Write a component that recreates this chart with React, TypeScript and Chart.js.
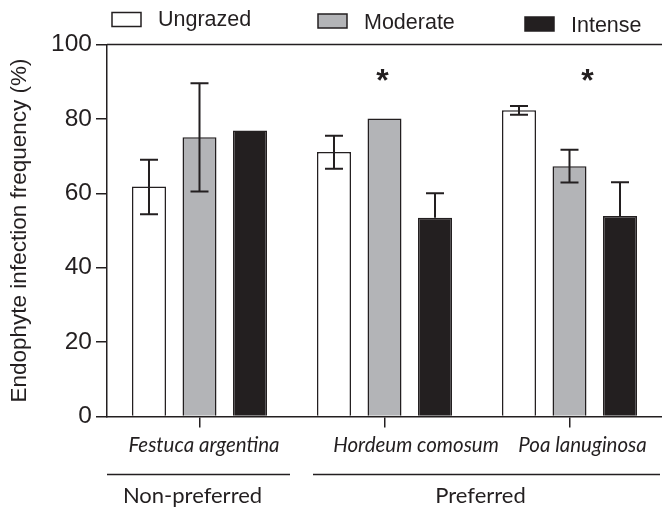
import React, { useEffect, useRef } from "react";
import { Chart, registerables } from "chart.js";

Chart.register(...registerables);

// ---- data ----
const categories = ["Festuca argentina", "Hordeum comosum", "Poa lanuginosa"];
const seriesNames = ["Ungrazed", "Moderate", "Intense"];
const ungrazed = [61.8, 71.1, 82.3];
const moderate = [75.1, 80.1, 67.3];
const intense = [76.9, 53.4, 53.9];
const ungrazedErrHigh = [69.0, 75.5, 83.5];
const ungrazedErrLow = [54.4, 66.6, 81.1];
const moderateErrHigh = [89.6, null, 71.7];
const moderateErrLow = [60.5, null, 62.9];
const intenseErrHigh = [null, 60.0, 63.0];
const intenseErrLow = [null, null, null];
const significant = [false, true, true];
const asteriskLevel = 92.4;
const groupNames = ["Non-preferred", "Preferred"];
const groupFirst = [0, 1];
const groupLast = [0, 2];
const yMin = 0;
const yMax = 100;
const yStep = 20;
const yTitle = "Endophyte infection frequency (%)";

// ---- style ----
const INK = "#231f20";
const GRAY = "#b3b4b7";
const fills = ["#ffffff", GRAY, INK];
const SANS = "'Liberation Sans', Arial, sans-serif";
const HUM = "Lato, 'Open Sans', sans-serif";

const errorBarPlugin = {
  id: "errorBars",
  afterDatasetsDraw(chart: any) {
    const ctx = chart.ctx;
    const y = chart.scales.y;
    chart.data.datasets.forEach((ds: any, i: number) => {
      const meta = chart.getDatasetMeta(i);
      meta.data.forEach((bar: any, j: number) => {
        const hi = ds.errHigh[j];
        const lo = ds.errLow[j];
        if (hi == null) return;
        const x = bar.x;
        const yTop = y.getPixelForValue(hi);
        const yBot = lo == null ? bar.y : y.getPixelForValue(lo);
        ctx.save();
        ctx.strokeStyle = INK;
        ctx.lineWidth = 2;
        ctx.beginPath();
        ctx.moveTo(x, yBot);
        ctx.lineTo(x, yTop);
        ctx.moveTo(x - 9, yTop);
        ctx.lineTo(x + 9, yTop);
        if (lo != null) {
          ctx.moveTo(x - 9, yBot);
          ctx.lineTo(x + 9, yBot);
        }
        ctx.stroke();
        ctx.restore();
      });
    });
  },
};

const decorPlugin = {
  id: "decor",
  afterDraw(chart: any) {
    const ctx = chart.ctx;
    const area = chart.chartArea;
    const xs = chart.scales.x;
    const ys = chart.scales.y;
    ctx.save();
    // top frame line
    ctx.strokeStyle = INK;
    ctx.lineWidth = 1.5;
    ctx.beginPath();
    ctx.moveTo(area.left, area.top);
    ctx.lineTo(area.right, area.top);
    ctx.stroke();

    // category labels (italic), offset as in the original figure
    const labelOffsets = [4.5, 31.5, 13];
    ctx.fillStyle = INK;
    ctx.font = `italic 20.5px ${HUM}`;
    ctx.textAlign = "center";
    ctx.textBaseline = "alphabetic";
    categories.forEach((c, i) => {
      ctx.fillText(c, xs.getPixelForValue(i) + labelOffsets[i], 451.5);
    });

    // asterisks
    const astOffsets = [0, -2, 18];
    const astSize = 32;
    ctx.font = `bold ${astSize}px ${SANS}`;
    significant.forEach((s, i) => {
      if (!s) return;
      const x = xs.getPixelForValue(i) + astOffsets[i];
      const y = ys.getPixelForValue(asteriskLevel);
      ctx.fillText("*", x, y + 0.573 * astSize);
    });

    // legend
    const legendPos = [
      { bx: 112, by: 12.5, base: 26 },
      { bx: 318, by: 14, base: 28.5 },
      { bx: 525, by: 17, base: 31.5 },
    ];
    ctx.font = `21.5px ${SANS}`;
    ctx.textAlign = "left";
    chart.data.datasets.forEach((ds: any, i: number) => {
      const p = legendPos[i];
      ctx.fillStyle = ds.backgroundColor;
      ctx.fillRect(p.bx, p.by, 29, 14);
      ctx.strokeStyle = INK;
      ctx.lineWidth = 1.5;
      ctx.strokeRect(p.bx, p.by, 29, 14);
      ctx.fillStyle = INK;
      ctx.fillText(ds.label, p.bx + 46, p.base);
    });

    // group labels with lines
    const step = xs.getPixelForValue(1) - xs.getPixelForValue(0);
    ctx.font = `22px ${HUM}`;
    ctx.textAlign = "center";
    groupNames.forEach((g, i) => {
      let x0 = xs.getPixelForValue(groupFirst[i]) - step / 2;
      let x1 = xs.getPixelForValue(groupLast[i]) + step / 2;
      if (i > 0) x0 += 21;
      x1 -= 2;
      ctx.strokeStyle = INK;
      ctx.lineWidth = 1.5;
      ctx.beginPath();
      ctx.moveTo(x0, 474.5);
      ctx.lineTo(x1, 474.5);
      ctx.stroke();
      ctx.fillStyle = INK;
      ctx.fillText(g, (x0 + x1) / 2 - 6, 503);
    });
    ctx.restore();
  },
};

export default function App() {
  const ref = useRef<HTMLCanvasElement>(null);
  useEffect(() => {
    const chart = new Chart(ref.current as HTMLCanvasElement, {
      type: "bar",
      data: {
        labels: categories,
        datasets: [
          { label: seriesNames[0], data: ungrazed, errHigh: ungrazedErrHigh, errLow: ungrazedErrLow },
          { label: seriesNames[1], data: moderate, errHigh: moderateErrHigh, errLow: moderateErrLow },
          { label: seriesNames[2], data: intense, errHigh: intenseErrHigh, errLow: intenseErrLow },
        ].map((d: any, i) => ({
          ...d,
          backgroundColor: fills[i],
          borderColor: INK,
          borderWidth: 1.5,
          borderSkipped: "start",
          categoryPercentage: 0.819,
          barPercentage: 0.673,
        })),
      } as any,
      options: {
        animation: false,
        responsive: false,
        devicePixelRatio: 1,
        layout: { padding: { top: 44.5, left: 0, right: 0, bottom: 0 } },
        plugins: { legend: { display: false }, tooltip: { enabled: false } },
        scales: {
          x: {
            type: "category",
            offset: true,
            afterFit: (s: any) => {
              s.height = 92.5;
            },
            grid: {
              offset: false,
              drawOnChartArea: false,
              drawTicks: true,
              tickLength: 11,
              color: INK,
              lineWidth: 1.5,
            },
            border: { display: true, color: INK, width: 1.5 },
            ticks: {
              display: false,
              maxRotation: 0,
              autoSkip: false,
            },
          },
          y: {
            min: yMin,
            max: yMax,
            afterFit: (s: any) => {
              s.width = 107;
            },
            grid: {
              drawOnChartArea: false,
              drawTicks: true,
              tickLength: 11,
              color: INK,
              lineWidth: 1.5,
            },
            border: { display: true, color: INK, width: 1.5 },
            ticks: {
              stepSize: yStep,
              color: INK,
              padding: 4,
              font: { family: SANS, size: 24.5 },
            },
            title: {
              display: true,
              text: yTitle,
              color: INK,
              padding: { top: 6.3, bottom: 0 },
              font: { family: SANS, size: 22.5 },
            },
          },
        },
      } as any,
      plugins: [errorBarPlugin, decorPlugin],
    });
    return () => chart.destroy();
  }, []);
  return (
    <div style={{ position: "absolute", left: 0, top: 0, width: 662, height: 509, background: "#fff" }}>
      <canvas ref={ref} width={662} height={509} style={{ display: "block" }} />
    </div>
  );
}
